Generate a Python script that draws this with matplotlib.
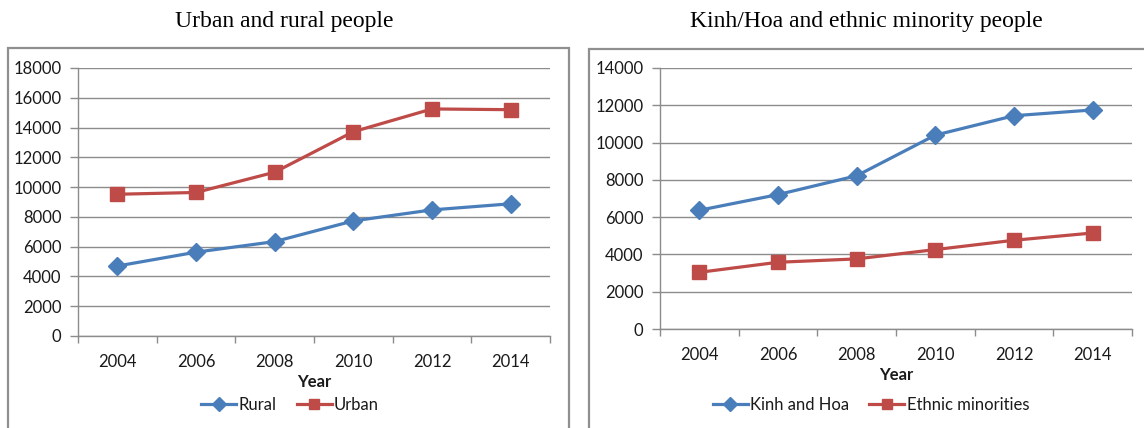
import matplotlib
matplotlib.use("Agg")
import matplotlib.pyplot as plt
from matplotlib.patches import Rectangle

years = ["2004", "2006", "2008", "2010", "2012", "2014"]

rural = [4700, 5630, 6340, 7730, 8470, 8880]
urban = [9520, 9640, 11000, 13720, 15250, 15200]

kinh_hoa = [6370, 7210, 8220, 10400, 11440, 11750]
ethnic = [3040, 3580, 3760, 4260, 4760, 5150]

BLUE = "#4A7EBB"
RED = "#BE4B48"
GRID = "#8C8C8C"
FRAME = "#8F8F8F"
TXT = "#1a1a1a"

W, H = 1144, 428
fig = plt.figure(figsize=(W / 100, H / 100), dpi=100)
fig.patch.set_facecolor("white")

UI_FONT = ["Lato", "DejaVu Sans"]
SERIF = ["Liberation Serif", "DejaVu Serif"]


def fx(px):
    return px / W


def fy(py):
    return 1 - py / H


def panel(box, plot, title, title_x, series, ymax, ystep, legend_x, xpad, ylabpad):
    bx0, by0, bx1 = box
    fig.patches.append(Rectangle((fx(bx0), fy(H + 10)), fx(bx1 - bx0), fy(by0) - fy(H + 10),
                                 transform=fig.transFigure, fill=False,
                                 edgecolor=FRAME, linewidth=1.6, zorder=0))
    fig.text(fx(title_x), fy(21), title, ha="center", va="center",
             family=SERIF, fontsize=17, color="black")

    x0, y0, x1, y1 = plot
    ax = fig.add_axes([fx(x0), fy(y1), fx(x1 - x0), fy(y0) - fy(y1)])
    xs = list(range(len(years)))
    handles = []
    for name, vals, color, marker, ms in series:
        h, = ax.plot(xs, vals, color=color, lw=2.3, marker=marker,
                     markersize=ms, markeredgecolor=color, label=name,
                     solid_joinstyle="round", zorder=3)
        handles.append(h)

    ax.set_xlim(-0.5, len(years) - 0.5)
    ax.set_ylim(0, ymax)
    ax.set_yticks(range(0, ymax + 1, ystep))
    ax.set_yticklabels([str(v) for v in range(0, ymax + 1, ystep)],
                       family=UI_FONT, fontsize=12, color=TXT)
    ax.set_xticks(xs)
    ax.set_xticklabels(years, family=UI_FONT, fontsize=12, color=TXT)
    ax.set_xticks([i - 0.5 for i in range(len(years) + 1)], minor=True)
    ax.tick_params(axis="x", which="major", length=0, pad=xpad)
    ax.tick_params(axis="x", which="minor", length=5, color=GRID, width=1)
    ax.tick_params(axis="y", length=6, color=GRID, width=1, pad=6)

    ax.grid(axis="y", color=GRID, lw=1)
    ax.set_axisbelow(True)
    for s in ("top", "right"):
        ax.spines[s].set_visible(False)
    for s in ("left", "bottom"):
        ax.spines[s].set_color(GRID)
        ax.spines[s].set_linewidth(1)

    ax.set_xlabel("Year", family=UI_FONT, fontsize=12, fontweight="bold",
                  color=TXT, labelpad=ylabpad)

    leg = fig.legend(handles=handles, loc="center", bbox_to_anchor=(fx(legend_x), fy(405)),
                     ncol=2, frameon=False, prop={"family": UI_FONT, "size": 12},
                     handlelength=2.1, handletextpad=0.15, columnspacing=1.2,
                     markerscale=0.75)
    for t in leg.get_texts():
        t.set_color(TXT)
    return ax


panel((8, 48, 569), (78, 68, 550, 336), "Urban and rural people", 284,
      [("Rural", rural, BLUE, "D", 9), ("Urban", urban, RED, "s", 10)],
      18000, 2000, 290, 13, 3)

panel((589, 49, 1160), (660, 68, 1132, 329), "Kinh/Hoa and ethnic minority people", 866,
      [("Kinh and Hoa", kinh_hoa, BLUE, "D", 9), ("Ethnic minorities", ethnic, RED, "s", 10)],
      14000, 2000, 871, 13, 3)

fig.savefig("out.png", dpi=100, facecolor="white")
